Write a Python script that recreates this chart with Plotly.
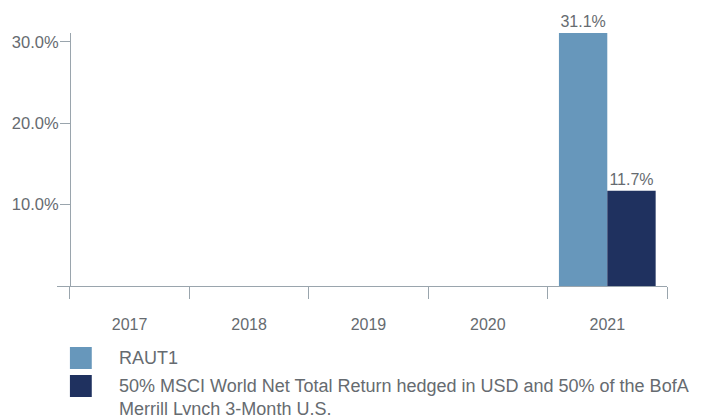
import plotly.graph_objects as go

years = ["2017", "2018", "2019", "2020", "2021"]
raut1 = [None, None, None, None, 31.1]
benchmark = [None, None, None, None, 11.7]
series_names = [
    "RAUT1",
    "50% MSCI World Net Total Return hedged in USD and 50% of the BofA<br>Merrill Lynch 3-Month U.S.",
]
colors = ["#6797bb", "#1f315f"]
y_ticks = [10, 20, 30]

W, H = 709, 415
L, R, T, B = 53, 42, 33, 129
pw, ph = W - L - R, H - T - B

def px(x):
    return (x - L) / pw

def py(y):
    return (H - B - y) / ph

FONT = "Liberation Sans, Arial, sans-serif"
TXT = "#666b70"
AX = "#9aa5ad"

fig = go.Figure()
for vals, name, col in zip([raut1, benchmark], series_names, colors):
    fig.add_trace(go.Bar(
        x=years, y=vals, name=name, marker=dict(color=col, line=dict(width=0)),
        texttemplate="%{y:.1f}%", textposition="outside", cliponaxis=False,
        textfont=dict(family=FONT, size=16, color=TXT), showlegend=False,
    ))

fig.update_layout(
    width=W, height=H, margin=dict(l=L, r=R, t=T, b=B),
    paper_bgcolor="white", plot_bgcolor="white",
    barmode="group", bargap=0.19, bargroupgap=0,
    font=dict(family=FONT, size=16, color=TXT),
    xaxis=dict(
        type="category", range=[-0.5 - 13 / 120.2, 4.5], tickson="boundaries",
        showline=True, linecolor=AX, linewidth=1, ticks="outside", ticklen=12,
        tickcolor=AX, showgrid=False, zeroline=False, ticklabelstandoff=24,
        tickfont=dict(family=FONT, size=16, color=TXT),
    ),
    yaxis=dict(
        range=[0, 31.1], anchor="free", position=px(66), tickvals=y_ticks,
        ticktext=[f"{v:.1f}%" for v in y_ticks],
        showline=True, linecolor=AX, linewidth=1, ticks="outside", ticklen=10,
        tickcolor=AX, showgrid=False, zeroline=False, ticklabelstandoff=-2,
        tickfont=dict(family=FONT, size=16.5, color=TXT),
    ),
)

# custom legend
sq = [(347, 369), (375, 397)]
text_y = [358, 397]
for (y0, y1), ty, name, col in zip(sq, text_y, series_names, colors):
    fig.add_shape(type="rect", xref="paper", yref="paper",
                  x0=px(66), x1=px(88), y0=py(y1), y1=py(y0),
                  fillcolor=col, line=dict(width=0))
    fig.add_annotation(xref="paper", yref="paper", x=px(113), y=py(ty),
                       xanchor="left", yanchor="middle", align="left",
                       text=name, showarrow=False,
                       font=dict(family=FONT, size=18, color=TXT))

fig.write_html("out.html")
